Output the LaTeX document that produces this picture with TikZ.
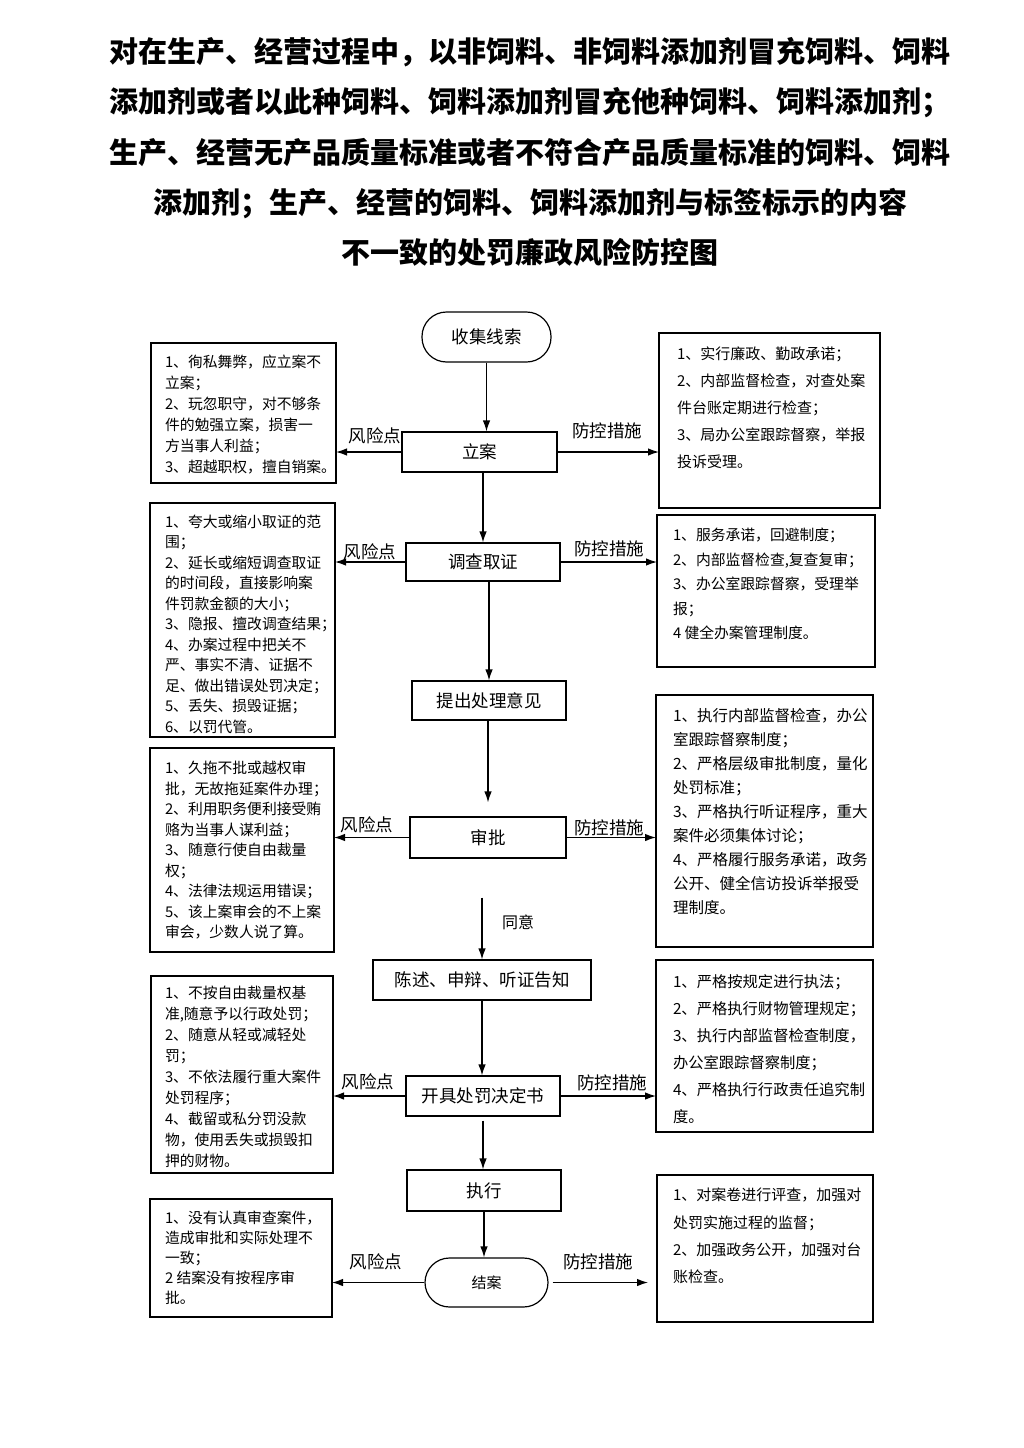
\documentclass[tikz,border=0pt]{standalone}
\usepackage{fontspec}
\setmainfont{Noto Sans CJK SC}
\usetikzlibrary{arrows.meta}
% #1 width, #2 height, #3 font size, #4 baselineskip, #5 top pad, #6 left pad, #7 text
\newcommand\boxtxt[7]{\parbox[t][#2pt][t]{#1pt}{\fontsize{#3}{#4}\selectfont\raggedright\leftskip=#6pt\relax\vspace*{#5pt}#7}}
\tikzset{
  flow/.style={draw, line width=1.2pt, inner sep=0pt, font=\fontsize{17.5}{20}\selectfont},
  stad/.style={flow, rounded corners=24.5pt},
  sidebox/.style={draw, line width=1.2pt, inner sep=0pt, outer sep=0pt, anchor=north west},
  arr/.style={line width=1.2pt, -{Latex[length=11pt,width=7.5pt]}},
  lbl/.style={font=\fontsize{17.5}{20}\selectfont, inner sep=0pt},
}
\begin{document}
\begin{tikzpicture}[x=1pt,y=-1pt]
\fill[white] (0,0) rectangle (1024,1448);
\useasboundingbox (0,0) rectangle (1024,1448);

% title
\node[font=\bfseries\fontsize{29}{50.25}\selectfont, align=center, inner sep=0pt] (title) at (530,152)
 {对在生产、经营过程中，以非饲料、非饲料添加剂冒充饲料、饲料\\
  添加剂或者以此种饲料、饲料添加剂冒充他种饲料、饲料添加剂；\\
  生产、经营无产品质量标准或者不符合产品质量标准的饲料、饲料\\
  添加剂；生产、经营的饲料、饲料添加剂与标签标示的内容\\
  不一致的处罚廉政风险防控图};

% central flow
\node[stad, minimum width=129, minimum height=50] (sj) at (486.5,337) {收集线索};
\node[flow, minimum width=155, minimum height=40] (la) at (479.5,452) {立案};
\node[flow, minimum width=154, minimum height=38] (dc) at (483,562) {调查取证};
\node[flow, minimum width=154, minimum height=39] (tc) at (489,700.5) {提出处理意见};
\node[flow, minimum width=156, minimum height=41] (sp) at (488,837.5) {审批};
\node[flow, minimum width=218, minimum height=40] (cs) at (482,980) {陈述、申辩、听证告知};
\node[flow, minimum width=154, minimum height=40] (kj) at (483,1096) {开具处罚决定书};
\node[flow, minimum width=154, minimum height=41] (zx) at (484,1190.5) {执行};
\node[stad, minimum width=123, minimum height=49, font=\fontsize{15}{18}\selectfont] (ja) at (486.5,1282.5) {结案};

% left boxes
\node[sidebox] (L1) at (151,343) {\boxtxt{185}{140}{14.8}{20.9}{12}{14}{%
1、徇私舞弊，应立案不\\立案；\\2、玩忽职守，对不够条\\件的勉强立案，损害一\\方当事人利益；\\3、超越职权，擅自销案。}};
\node[sidebox] (L2) at (150,503) {\boxtxt{185}{234}{14.8}{20.5}{12}{15}{%
1、夸大或缩小取证的范\\围；\\2、延长或缩短调查取证\\的时间段，直接影响案\\件罚款金额的大小；\\3、隐报、擅改调查结果；\\4、办案过程中把关不\\严、事实不清、证据不\\足、做出错误处罚决定；\\5、丢失、损毁证据；\\6、以罚代管。}};
\node[sidebox] (L3) at (150,748) {\boxtxt{184}{204}{14.8}{20.5}{13}{15}{%
1、久拖不批或越权审\\批，无故拖延案件办理；\\2、利用职务便利接受贿\\赂为当事人谋利益；\\3、随意行使自由裁量\\权；\\4、法律法规运用错误；\\5、该上案审会的不上案\\审会，少数人说了算。}};
\node[sidebox] (L4) at (151,976) {\boxtxt{182}{197}{14.8}{21}{10.3}{14}{%
1、不按自由裁量权基\\准,随意予以行政处罚；\\2、随意从轻或减轻处\\罚；\\3、不依法履行重大案件\\处罚程序；\\4、截留或私分罚没款\\物，使用丢失或损毁扣\\押的财物。}};
\node[sidebox] (L5) at (150,1199) {\boxtxt{182}{118}{14.8}{20}{12.3}{15}{%
1、没有认真审查案件，\\造成审批和实际处理不\\一致；\\2 结案没有按程序审\\批。}};

% right boxes
\node[sidebox] (R1) at (659,333) {\boxtxt{221}{175}{15}{27}{14}{18}{%
1、实行廉政、勤政承诺；\\2、内部监督检查，对查处案\\件台账定期进行检查；\\3、局办公室跟踪督察，举报\\投诉受理。}};
\node[sidebox] (R2) at (657,515) {\boxtxt{218}{152}{14.8}{24.5}{13.3}{16}{%
1、服务承诺，回避制度；\\2、内部监督检查,复查复审；\\3、办公室跟踪督察，受理举\\报；\\4 健全办案管理制度。}};
\node[sidebox] (R3) at (656,695) {\boxtxt{217}{252}{15.5}{24.1}{13}{17}{%
1、执行内部监督检查，办公\\室跟踪督察制度；\\2、严格层级审批制度，量化\\处罚标准；\\3、严格执行听证程序，重大\\案件必须集体讨论；\\4、严格履行服务承诺，政务\\公开、健全信访投诉举报受\\理制度。}};
\node[sidebox] (R4) at (656,960) {\boxtxt{217}{172}{15.3}{27}{15}{17}{%
1、严格按规定进行执法；\\2、严格执行财物管理规定；\\3、执行内部监督检查制度，\\办公室跟踪督察制度；\\4、严格执行行政责任追究制\\度。}};
\node[sidebox] (R5) at (657,1175) {\boxtxt{216}{147}{15}{27.3}{13}{16}{%
1、对案卷进行评查，加强对\\处罚实施过程的监督；\\2、加强政务公开，加强对台\\账检查。}};

% labels
\node[lbl] (r1) at (375,436) {风险点};
\node[lbl] (f1) at (607,431) {防控措施};
\node[lbl] (r2) at (370,552) {风险点};
\node[lbl] (f2) at (609,549) {防控措施};
\node[lbl] (r3) at (367,825) {风险点};
\node[lbl] (f3) at (609,828) {防控措施};
\node[lbl] (r4) at (368,1082) {风险点};
\node[lbl] (f4) at (612,1083) {防控措施};
\node[lbl] (r5) at (376,1262) {风险点};
\node[lbl] (f5) at (598,1262) {防控措施};
\node[font=\fontsize{16}{18}\selectfont, inner sep=0pt] (ty) at (518,922) {同意};

% vertical connectors
\draw[arr] (sj.south) -- (sj.south |- la.north);
\draw[arr] (dc.north |- la.south) -- (dc.north);
\draw[arr] (tc.north |- dc.south) -- (tc.north);
\draw[arr, shorten >=14pt] (sp.north |- tc.south) -- (sp.north);
\draw[arr, shorten <=39pt] (cs.north |- sp.south) -- (cs.north);
\draw[arr] (cs.south) -- (cs.south |- kj.north);
\draw[arr, shorten <=4pt] (kj.south) -- (kj.south |- zx.north);
\draw[arr] (zx.south) -- (zx.south |- ja.north);

% horizontal connectors
\draw[arr] (la.west) -- (la.west -| L1.east);
\draw[arr] (la.east) -- (la.east -| R1.west);
\draw[arr] (dc.west) -- (dc.west -| L2.east);
\draw[arr] (dc.east) -- (dc.east -| R2.west);
\draw[arr] (sp.west) -- (sp.west -| L3.east);
\draw[arr] (sp.east) -- (sp.east -| R3.west);
\draw[arr] (kj.west) -- (kj.west -| L4.east);
\draw[arr] (kj.east) -- (kj.east -| R4.west);
\draw[arr] (ja.west) -- (ja.west -| L5.east);
\draw[arr, shorten <=4pt, shorten >=9pt] (ja.east) -- (ja.east -| R5.west);
\end{tikzpicture}
\end{document}
